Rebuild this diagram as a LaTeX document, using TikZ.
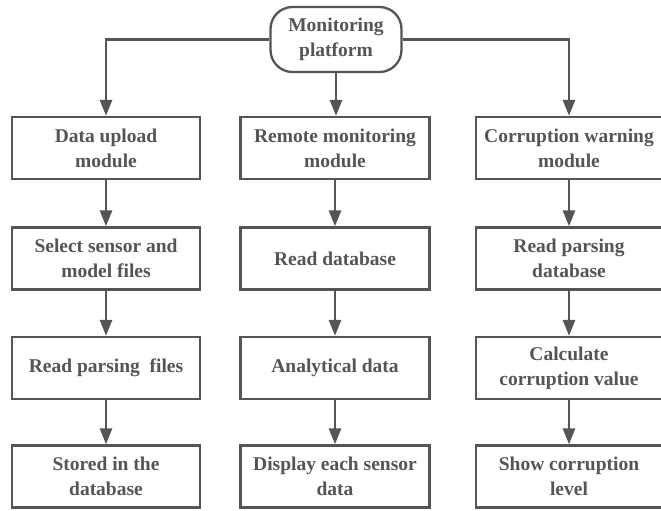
\documentclass[tikz,border=0pt]{standalone}
\usepackage{fontspec}
\setmainfont{Liberation Serif}
\usetikzlibrary{arrows.meta}
\definecolor{ink}{HTML}{555555}
\begin{document}
\begin{tikzpicture}[x=1pt,y=-1pt,
  label font/.style={font=\fontsize{19.5}{25}\selectfont\bfseries, text=ink},
  stepbox/.style={draw=ink, line width=2.3pt, fill=white, minimum height=62pt,
    align=center, inner sep=0pt, label font},
  startbox/.style={stepbox, rounded corners=22pt, minimum width=131pt, minimum height=65pt},
  link/.style={draw=ink, line width=2.8pt, -{Triangle[length=16pt,width=12pt]}},
]
\useasboundingbox (0,0) rectangle (661,511);

% top of the tree
\node[startbox] (mp) at (336,39.5) {Monitoring\\platform};

% left column: data upload
\begin{scope}[every node/.append style={minimum width=188pt}]
\node[stepbox] (a1) at (106,148)   {Data upload\\module};
\node[stepbox] (a2) at (106,258.5) {Select sensor and\\model files};
\node[stepbox] (a3) at (106,368)   {Read parsing\ \ files};
\node[stepbox] (a4) at (106,476.5) {Stored in the\\database};
\end{scope}

% middle column: remote monitoring
\begin{scope}[every node/.append style={minimum width=189pt}]
\node[stepbox] (b1) at (335,148)   {Remote monitoring\\module};
\node[stepbox] (b2) at (335,258.5) {Read database};
\node[stepbox] (b3) at (335,368)   {Analytical data};
\node[stepbox] (b4) at (335,476.5) {Display each sensor\\data};
\end{scope}

% right column: corruption warning
\begin{scope}[every node/.append style={minimum width=186pt}]
\node[stepbox] (c1) at (569,148)   {Corruption warning\\module};
\node[stepbox] (c2) at (569,258.5) {Read parsing\\database};
\node[stepbox] (c3) at (569,368)   {Calculate\\corruption value};
\node[stepbox] (c4) at (569,476.5) {Show corruption\\level};
\end{scope}

% branches from the platform
\draw[link] (mp.west) -| (a1.north);
\draw[link] (mp.south) -- (mp.south |- b1.north);
\draw[link] (mp.east) -| (c1.north);

% flow within each column
\foreach \col in {a,b,c}{
  \draw[link] (\col1) -- (\col2);
  \draw[link] (\col2) -- (\col3);
  \draw[link] (\col3) -- (\col4);
}
\end{tikzpicture}
\end{document}
